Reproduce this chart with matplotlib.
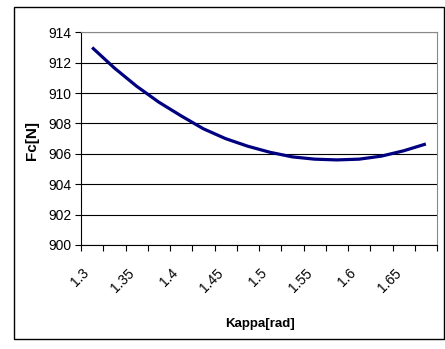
import matplotlib
matplotlib.use("Agg")
import matplotlib.pyplot as plt
from matplotlib.patches import Rectangle

# ── Data ──────────────────────────────────────────────────────────────────────
kappa = [1.3, 1.325, 1.35, 1.375, 1.4, 1.425, 1.45, 1.475,
         1.5, 1.525, 1.55, 1.575, 1.6, 1.625, 1.65, 1.675]
fc = [913.0, 911.65, 910.45, 909.4, 908.5, 907.65, 907.0, 906.5,
      906.1, 905.8, 905.65, 905.6, 905.65, 905.85, 906.2, 906.65]
tick_labels = ["1.3", "1.35", "1.4", "1.45", "1.5", "1.55", "1.6", "1.65"]

plt.rcParams["font.family"] = ["Liberation Sans", "DejaVu Sans"]

fig = plt.figure(figsize=(4.45, 3.49), dpi=100)
ax = fig.add_axes([81 / 445, 1 - 245 / 349, 356 / 445, 212.7 / 349])

# Excel-style category axis: points at category centres
pos = list(range(len(kappa)))
ax.plot(pos, fc, color="#000080", linewidth=2.3, solid_capstyle="butt")

ax.set_xlim(-0.5, len(kappa) - 0.5)
ax.set_ylim(900, 914)
ax.set_yticks(range(900, 915, 2))
ax.yaxis.grid(True, color="black", linewidth=0.8)
ax.set_axisbelow(True)

# tick marks between categories, labels every second category
ax.set_xticks([p - 0.5 for p in pos] + [len(kappa) - 0.5])
ax.set_xticklabels([])
ax.set_xticks(pos[::2], minor=True)
ax.set_xticklabels(tick_labels, minor=True, rotation=45, ha="right",
                   fontsize=10)
ax.tick_params(axis="x", which="minor", length=0, pad=15)
ax.tick_params(axis="x", which="major", length=4, direction="out",
               width=0.8)
ax.tick_params(axis="y", length=4, width=0.8, pad=3, labelsize=10)

for side in ("top", "right"):
    ax.spines[side].set_color("#888888")
    ax.spines[side].set_linewidth(0.8)
for side in ("left", "bottom"):
    ax.spines[side].set_color("black")
    ax.spines[side].set_linewidth(0.8)

ax.set_xlabel("Kappa[rad]", fontsize=9.5, fontweight="bold")
ax.xaxis.set_label_coords(0.503, -0.343)
ax.set_ylabel("Fc[N]", fontsize=11, fontweight="bold")
ax.yaxis.set_label_coords(-0.118, 0.49)

# outer chart frame
fig.patches.append(Rectangle((14 / 445, 1 - 339 / 349), 430 / 445, 332 / 349,
                             transform=fig.transFigure, fill=False,
                             edgecolor="black", linewidth=1.0))

fig.savefig("out.png", dpi=100)
